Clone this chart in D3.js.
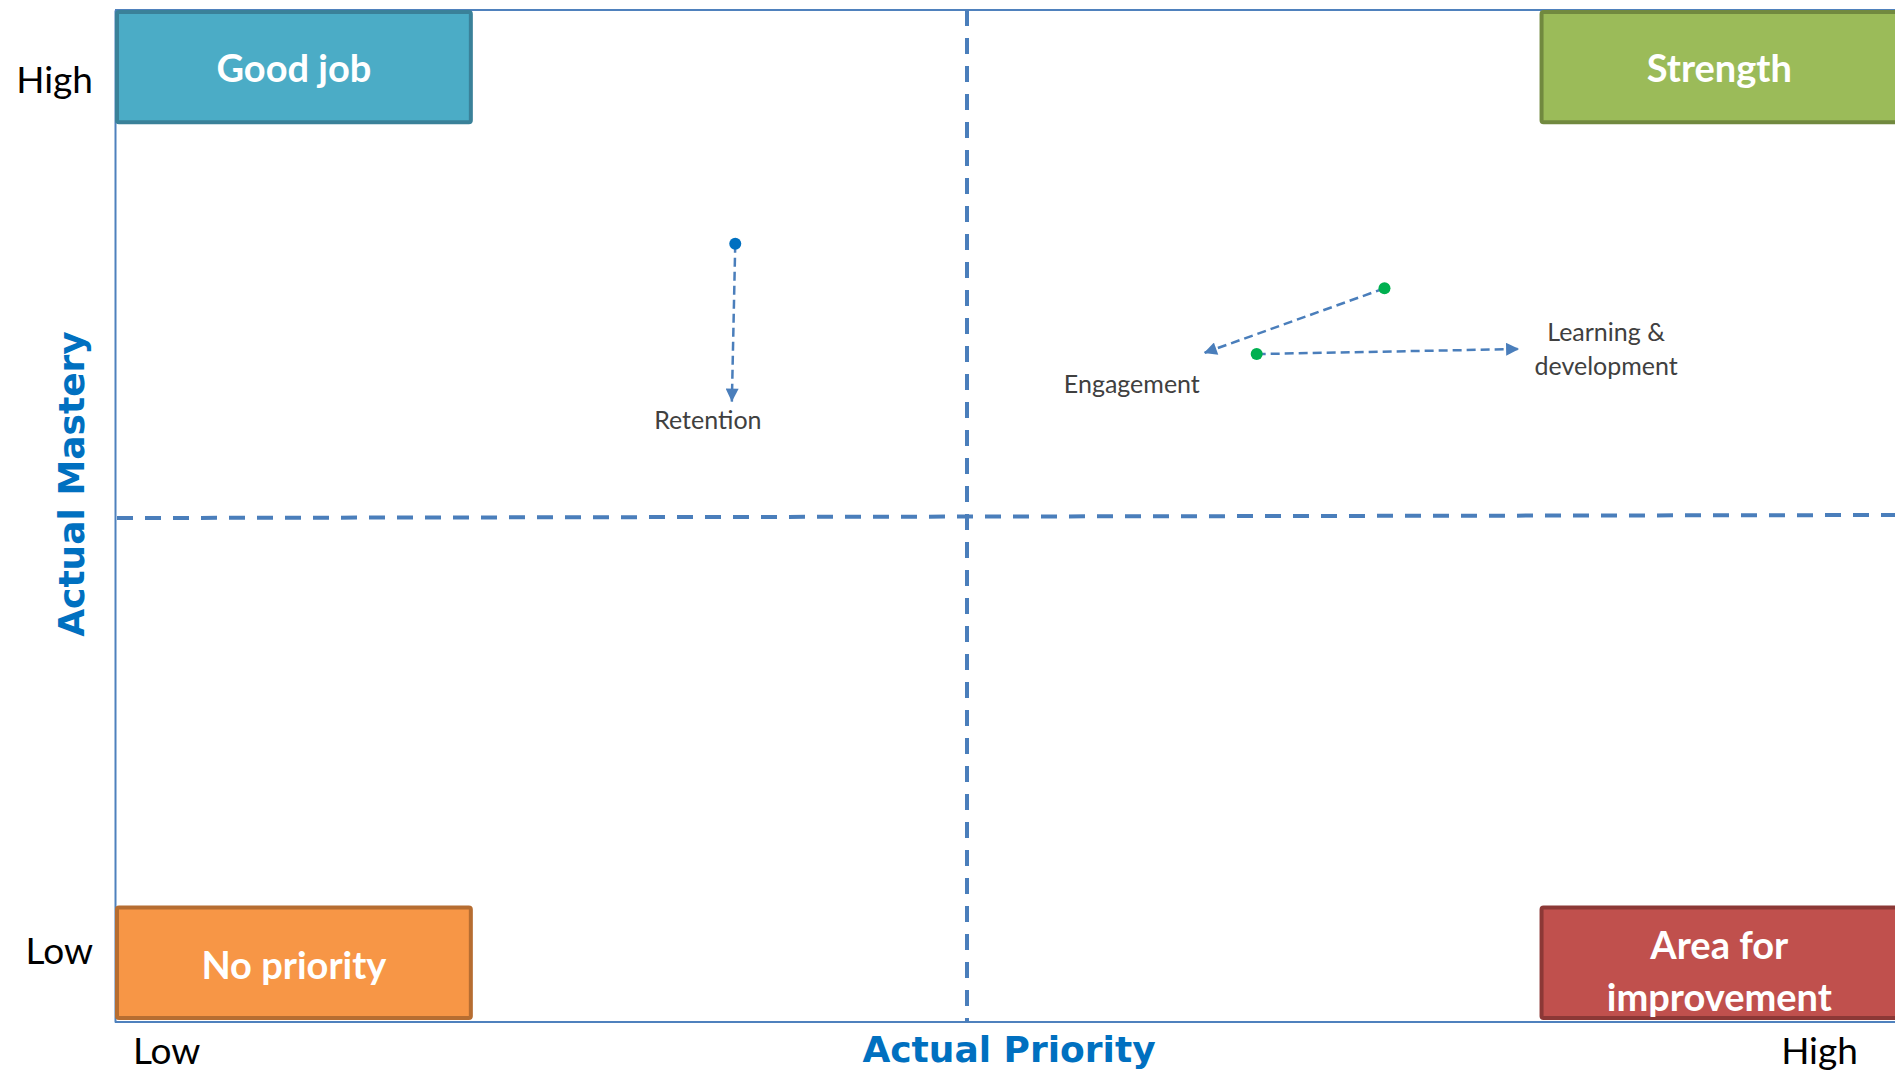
<!DOCTYPE html>
<html>
<head>
<meta charset="utf-8">
<script src="https://cdn.jsdelivr.net/npm/d3@7"></script>
<style>
  html, body { margin: 0; padding: 0; background: #ffffff; }
  svg { display: block; }
</style>
</head>
<body>
<svg id="chart" width="1895" height="1074"></svg>
<script>
// Priority / mastery matrix: each item moves from its previous position (dot) to its current one (arrow head)
const items = ["Retention", "Engagement", "Learning & development"];
const fromPriority = [36.4, 74.5, 67.0];
const fromMastery  = [76.9, 72.5, 66.0];
const toPriority   = [36.2, 63.9, 82.4];
const toMastery    = [61.3, 66.1, 66.5];
const dotColors    = ["#0070C0", "#00B050", "#00B050"];

const quadrantNames = ["Good job", "Strength", "No priority", "Area for improvement"];
const xTickValues = [3, 100];
const xTickLabels = ["Low", "High"];
const yTickValues = [7, 93];
const yTickLabels = ["Low", "High"];

const W = 1895, H = 1074;
const svg = d3.select("#chart");

const x = d3.scaleLinear().domain([0, 100]).range([115, 1819]);
const y = d3.scaleLinear().domain([0, 100]).range([1022, 10]);

const frameColor = "#4F81BD";
const guideColor = "#4A7EBB";

// arrow head marker
svg.append("defs").append("marker")
  .attr("id", "arrowHead")
  .attr("viewBox", "0 0 10 10")
  .attr("refX", 10).attr("refY", 5)
  .attr("markerUnits", "userSpaceOnUse")
  .attr("markerWidth", 14).attr("markerHeight", 13)
  .attr("orient", "auto")
  .append("path")
  .attr("d", "M0,0 L10,5 L0,10 Z")
  .attr("fill", guideColor);

// frame: top edge plus the two axes
svg.append("line")
  .attr("x1", x(0)).attr("x2", W)
  .attr("y1", y(100)).attr("y2", y(100))
  .attr("stroke", frameColor).attr("stroke-width", 2);

const xAxis = d3.axisBottom(x)
  .tickValues(xTickValues)
  .tickFormat((d, i) => xTickLabels[i])
  .tickSize(0).tickPadding(16);
const gx = svg.append("g").attr("transform", `translate(0,${y(0)})`).call(xAxis);
gx.select(".domain").attr("d", `M${x(0)},0H${W}`).attr("stroke", frameColor).attr("stroke-width", 2);

const yAxis = d3.axisLeft(y)
  .tickValues(yTickValues)
  .tickFormat((d, i) => yTickLabels[i])
  .tickSize(0).tickPadding(22);
const gy = svg.append("g").attr("transform", `translate(${x(0)},0)`).call(yAxis);
gy.select(".domain").attr("stroke", frameColor).attr("stroke-width", 2);

svg.selectAll(".tick text")
  .attr("font-family", "Lato, 'Open Sans', sans-serif")
  .attr("font-size", 37)
  .attr("fill", "#000000");

// quadrant dividers
svg.append("line")
  .attr("x1", x(50)).attr("x2", x(50))
  .attr("y1", y(100)).attr("y2", y(0))
  .attr("stroke", guideColor).attr("stroke-width", 4)
  .attr("stroke-dasharray", "16,12");
svg.append("line")
  .attr("x1", x(0) + 2).attr("x2", W)
  .attr("y1", y(49.8)).attr("y2", y(50.1))
  .attr("stroke", guideColor).attr("stroke-width", 4)
  .attr("stroke-dasharray", "16,12");

// axis titles
svg.append("text")
  .attr("x", 1009).attr("y", 1062)
  .attr("text-anchor", "middle")
  .attr("font-family", "'DejaVu Sans', Verdana, sans-serif")
  .attr("font-weight", "bold")
  .attr("font-size", 36)
  .attr("fill", "#0070C0")
  .text("Actual Priority");

svg.append("text")
  .attr("transform", "translate(84,484) rotate(-90)")
  .attr("text-anchor", "middle")
  .attr("font-family", "'DejaVu Sans', Verdana, sans-serif")
  .attr("font-weight", "bold")
  .attr("font-size", 36)
  .attr("fill", "#0070C0")
  .text("Actual Mastery");

// quadrant label boxes (the right-hand pair runs past the page edge)
const boxH = 11.3;
const boxes = [
  { name: quadrantNames[0], px: 0,    w: 21,   my: 100,  fill: "#4BACC6", stroke: "#3A8199", lines: ["Good job"], shift: 1 },
  { name: quadrantNames[1], px: 83.6, w: 21.1, my: 100,  fill: "#9BBB59", stroke: "#71893F", lines: ["Strength"], shift: 1 },
  { name: quadrantNames[2], px: 0,    w: 21,   my: 11.5, fill: "#F79646", stroke: "#B66D31", lines: ["No priority"], shift: 3 },
  { name: quadrantNames[3], px: 83.6, w: 21.1, my: 11.5, fill: "#C0504D", stroke: "#8C3836", lines: ["Area for", "improvement"], shift: 9 }
];

const gb = svg.append("g").selectAll("g").data(boxes).join("g");
gb.append("rect")
  .attr("x", d => x(d.px) + 2)
  .attr("y", d => y(d.my) + 2)
  .attr("width", d => x(d.px + d.w) - x(d.px) - 4)
  .attr("height", d => y(d.my - boxH) - y(d.my) - 4)
  .attr("rx", 2)
  .attr("fill", d => d.fill)
  .attr("stroke", d => d.stroke)
  .attr("stroke-width", 4);
gb.each(function (d) {
  const cx = (x(d.px) + x(d.px + d.w)) / 2;
  const cy = (y(d.my) + y(d.my - boxH)) / 2 + d.shift;
  const lh = 52;
  const t = d3.select(this).append("text")
    .attr("text-anchor", "middle")
    .attr("font-family", "Lato, 'Open Sans', sans-serif")
    .attr("font-weight", "bold")
    .attr("font-size", 38)
    .attr("fill", "#ffffff");
  d.lines.forEach((ln, i) => {
    t.append("tspan")
      .attr("x", cx)
      .attr("y", cy + (i - (d.lines.length - 1) / 2) * lh)
      .attr("dy", "0.36em")
      .text(ln);
  });
});

// movement arrows
const moves = items.map((name, i) => ({
  name,
  x0: fromPriority[i], y0: fromMastery[i],
  x1: toPriority[i],   y1: toMastery[i],
  color: dotColors[i]
}));

svg.append("g").selectAll("line").data(moves).join("line")
  .attr("x1", d => x(d.x0)).attr("y1", d => y(d.y0))
  .attr("x2", d => x(d.x1)).attr("y2", d => y(d.y1))
  .attr("stroke", guideColor).attr("stroke-width", 2.5)
  .attr("stroke-dasharray", "9,5")
  .attr("marker-end", "url(#arrowHead)");

svg.append("g").selectAll("circle").data(moves).join("circle")
  .attr("cx", d => x(d.x0)).attr("cy", d => y(d.y0))
  .attr("r", 6)
  .attr("fill", d => d.color);

// item labels, placed next to the arrow heads
const labelSpecs = [
  { dx: -24, dy: 18, lines: ["Retention"] },
  { dx: -72, dy: 31, lines: ["Engagement"] },
  { dx: 87,  dy: -17, lines: ["Learning &", "development"] }
];
svg.append("g").selectAll("text").data(moves).join("text")
  .attr("text-anchor", "middle")
  .attr("font-family", "Lato, 'Open Sans', sans-serif")
  .attr("font-size", 25)
  .attr("fill", "#404040")
  .each(function (d, i) {
    const s = labelSpecs[i];
    const t = d3.select(this);
    s.lines.forEach((ln, j) => {
      t.append("tspan")
        .attr("x", x(d.x1) + s.dx)
        .attr("y", y(d.y1) + s.dy + j * 34)
        .attr("dy", "0.36em")
        .text(ln);
    });
  });
</script>
</body>
</html>
